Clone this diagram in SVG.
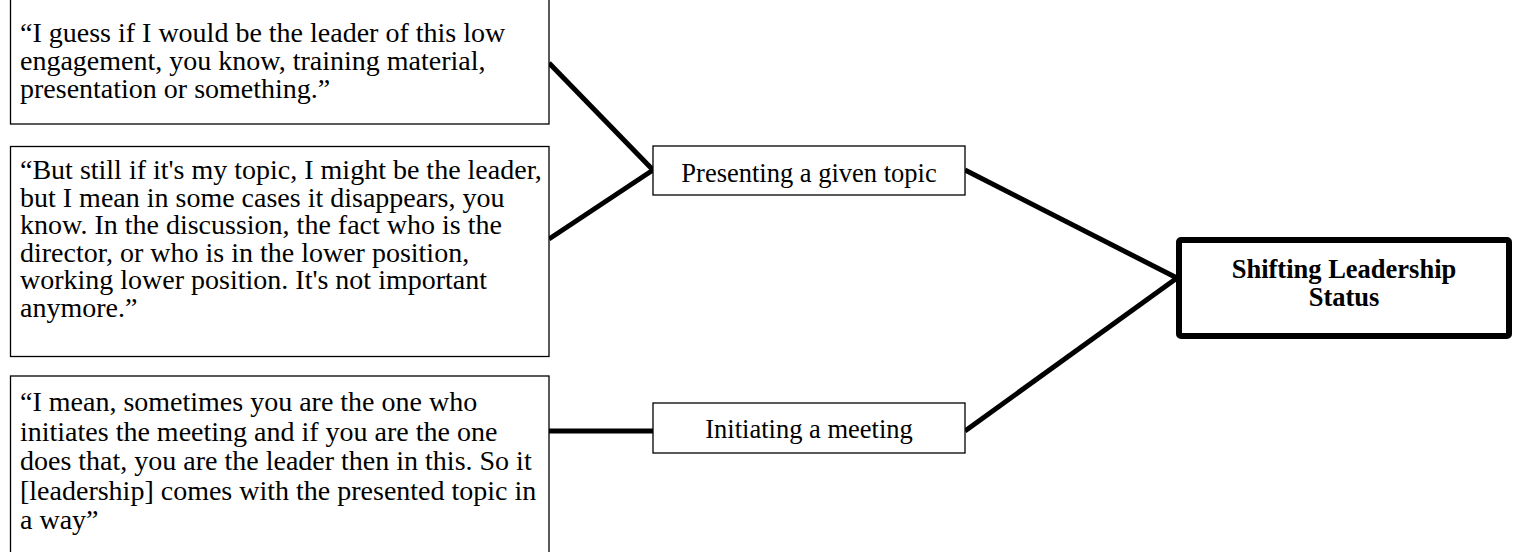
<svg xmlns="http://www.w3.org/2000/svg" width="1520" height="552" viewBox="0 0 1520 552">
<style>
.box{fill:#fff;stroke:#000;stroke-width:1.3}
.main{fill:#fff;stroke:#000;stroke-width:6}
.q{font-family:"Liberation Serif","Times New Roman",serif;font-size:28px;fill:#000}
.c{font-family:"Liberation Serif","Times New Roman",serif;font-size:26.5px;fill:#000;text-anchor:middle}
.b{font-weight:bold}
.con{stroke:#000;stroke-width:5;fill:none}
</style>
<rect width="1520" height="552" fill="#fff"/>
<g id="connectors">
<line class="con" x1="549" y1="63" x2="653" y2="170"/>
<line class="con" x1="549" y1="239" x2="653" y2="170"/>
<line class="con" x1="549" y1="431" x2="653" y2="431"/>
<line class="con" x1="965" y1="170" x2="1177" y2="278"/>
<line class="con" x1="965" y1="431" x2="1177" y2="278"/>
</g>
<g id="quote1">
<rect class="box" x="10.5" y="-20" width="538.5" height="144"/>
<text class="q"><tspan x="20" y="42">“I guess if I would be the leader of this low</tspan><tspan x="20" y="70">engagement, you know, training material,</tspan><tspan x="20" y="98">presentation or something.”</tspan></text>
</g>
<g id="quote2">
<rect class="box" x="10.5" y="146.5" width="538.5" height="210"/>
<text class="q"><tspan x="20" y="179">“But still if it's my topic, I might be the leader,</tspan><tspan x="20" y="206.6">but I mean in some cases it disappears, you</tspan><tspan x="20" y="234.2">know. In the discussion, the fact who is the</tspan><tspan x="20" y="261.8">director, or who is in the lower position,</tspan><tspan x="20" y="289.4">working lower position. It's not important</tspan><tspan x="20" y="317">anymore.”</tspan></text>
</g>
<g id="quote3">
<rect class="box" x="10.5" y="376" width="538.5" height="200"/>
<text class="q"><tspan x="20" y="411">“I mean, sometimes you are the one who</tspan><tspan x="20" y="440.5">initiates the meeting and if you are the one</tspan><tspan x="20" y="470">does that, you are the leader then in this. So it</tspan><tspan x="20" y="499.5">[leadership] comes with the presented topic in</tspan><tspan x="20" y="529">a way”</tspan></text>
</g>
<g id="presenting">
<rect class="box" x="653" y="146" width="312" height="49"/>
<text class="c" x="809" y="181.5">Presenting a given topic</text>
</g>
<g id="initiating">
<rect class="box" x="653" y="403" width="312" height="50"/>
<text class="c" x="809" y="438">Initiating a meeting</text>
</g>
<g id="shifting">
<rect class="main" x="1179" y="240" width="330" height="96" rx="2"/>
<text class="c b"><tspan x="1344" y="278">Shifting Leadership</tspan><tspan x="1344" y="306">Status</tspan></text>
</g>
</svg>
